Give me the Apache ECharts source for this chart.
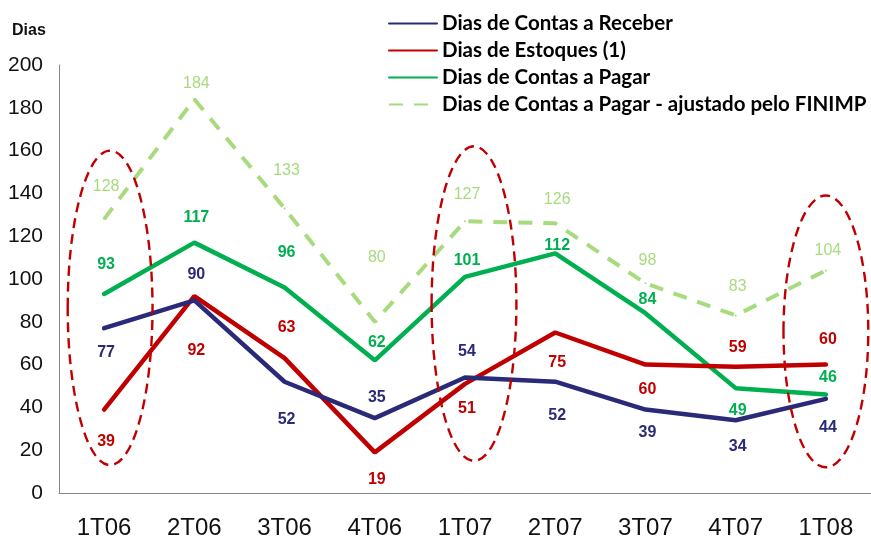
<!DOCTYPE html>
<html>
<head>
<meta charset="utf-8">
<script src="https://cdn.jsdelivr.net/npm/echarts@6/dist/echarts.min.js"></script>
<style>
  html, body { margin: 0; padding: 0; background: #fff; }
  #chart { width: 871px; height: 540px; }
</style>
</head>
<body>
<div id="chart"></div>
<script>
// Quarters
const quarters = ['1T06', '2T06', '3T06', '4T06', '1T07', '2T07', '3T07', '4T07', '1T08'];

// Days per indicator
const diasReceber  = [77, 90, 52, 35, 54, 52, 39, 34, 44];
const diasEstoques = [39, 92, 63, 19, 51, 75, 60, 59, 60];
const diasPagar    = [93, 117, 96, 62, 101, 112, 84, 49, 46];
const diasPagarAjustado = [128, 184, 133, 80, 127, 126, 98, 83, 104];

// Y axis ticks
const yTicks = [0, 20, 40, 60, 80, 100, 120, 140, 160, 180, 200];

// Highlighted quarters (dashed ellipses): [quarter, low value, high value]
const highlights = [['1T06', 13, 160], ['1T07', 15, 162], ['1T08', 12, 139]];

// Vertical label offsets (px, relative to the point)
const offReceber  = [24, -26, 38, -21, -26, 34, 23, 26, 29];
const offEstoques = [32, 54, -31, 27, 25, 30, 25, -19, -25];
const offPagar    = [-29, -25, -35, -18, -16, -8, -14, 22, -17];
const offAjustado = [-32, -16, -38, -64, -27, -24, -23, -29, -20];

const SYMBOL_SIZE = 2;

function withLabels(values, offsets) {
  return values.map((v, i) => ({
    value: v,
    label: { position: [SYMBOL_SIZE / 2 + 2, SYMBOL_SIZE / 2 + offsets[i]] }
  }));
}

const chart = echarts.init(document.getElementById('chart'));

const labelBase = {
  show: true,
  align: 'center',
  verticalAlign: 'middle',
  fontFamily: 'Liberation Sans, Arial, sans-serif',
  fontSize: 16,
  fontWeight: 'bold'
};

function lineSeries(name, values, offsets, color, lineStyle, labelExtra, z) {
  return {
    name: name,
    type: 'line',
    z: z,
    data: withLabels(values, offsets),
    symbol: 'circle',
    symbolSize: SYMBOL_SIZE,
    showSymbol: true,
    showAllSymbol: true,
    lineStyle: Object.assign({ color: color, width: 4.5, cap: 'round' }, lineStyle || {}),
    itemStyle: { color: color },
    label: Object.assign({}, labelBase, { color: color }, labelExtra || {}),
    labelLayout: { hideOverlap: false },
    emphasis: { disabled: true }
  };
}

chart.setOption({
  animation: false,
  backgroundColor: '#ffffff',
  title: {
    text: 'Dias',
    left: 7,
    top: 18,
    textStyle: { fontFamily: 'Liberation Sans, Arial, sans-serif', fontSize: 16, fontWeight: 'bold', color: '#111' }
  },
  legend: {
    orient: 'vertical',
    left: 383,
    top: 8,
    itemWidth: 48,
    itemHeight: 14,
    itemGap: 6,
    itemStyle: { opacity: 0, borderWidth: 0 },
    textStyle: {
      fontFamily: 'Lato, Carlito, sans-serif',
      fontSize: 20.5,
      lineHeight: 21,
      fontWeight: 'bold',
      color: '#000'
    },
    data: [
      'Dias de Contas a Receber',
      'Dias de Estoques (1)',
      'Dias de Contas a Pagar',
      'Dias de Contas a Pagar - ajustado pelo FINIMP'
    ]
  },
  grid: { left: 59, right: -10, top: 65, bottom: 47, containLabel: false },
  xAxis: {
    type: 'category',
    data: quarters,
    boundaryGap: true,
    axisLine: { lineStyle: { color: '#888', width: 1 } },
    axisTick: { show: false },
    axisLabel: {
      margin: 23,
      fontFamily: 'Liberation Sans, Arial, sans-serif',
      fontSize: 24,
      color: '#111'
    }
  },
  yAxis: {
    type: 'value',
    min: yTicks[0],
    max: yTicks[yTicks.length - 1],
    interval: yTicks[1] - yTicks[0],
    splitLine: { show: false },
    axisLine: { show: true, lineStyle: { color: '#888', width: 1 } },
    axisTick: { show: false },
    axisLabel: {
      margin: 16,
      fontFamily: 'Liberation Sans, Arial, sans-serif',
      fontSize: 21,
      color: '#111'
    }
  },
  series: [
    lineSeries('Dias de Contas a Receber', diasReceber, offReceber, '#2A2A78', null, null, 4),
    lineSeries('Dias de Estoques (1)', diasEstoques, offEstoques, '#C00000', null, null, 3),
    lineSeries('Dias de Contas a Pagar', diasPagar, offPagar, '#00B050', null, null, 2),
    lineSeries('Dias de Contas a Pagar - ajustado pelo FINIMP', diasPagarAjustado, offAjustado, '#A8DA7E',
      { width: 4, type: [14, 11], cap: 'butt' }, { fontWeight: 'normal' }, 1)
  ]
});

// Dashed ellipses around highlighted quarters
const ellipseShift = [6, 9, 0];
const bandWidth = chart.convertToPixel({ xAxisIndex: 0 }, quarters[1]) - chart.convertToPixel({ xAxisIndex: 0 }, quarters[0]);
chart.setOption({
  graphic: highlights.map((h, i) => {
    const cx = chart.convertToPixel({ xAxisIndex: 0 }, h[0]) + ellipseShift[i];
    const yLow = chart.convertToPixel({ yAxisIndex: 0 }, h[1]);
    const yHigh = chart.convertToPixel({ yAxisIndex: 0 }, h[2]);
    return {
      type: 'ellipse',
      z: 100,
      silent: true,
      shape: { cx: cx, cy: (yLow + yHigh) / 2, rx: bandWidth * 0.47, ry: (yLow - yHigh) / 2 },
      style: { fill: null, stroke: '#C00000', lineWidth: 2.4, lineDash: [10, 6] }
    };
  })
});
</script>
</body>
</html>
